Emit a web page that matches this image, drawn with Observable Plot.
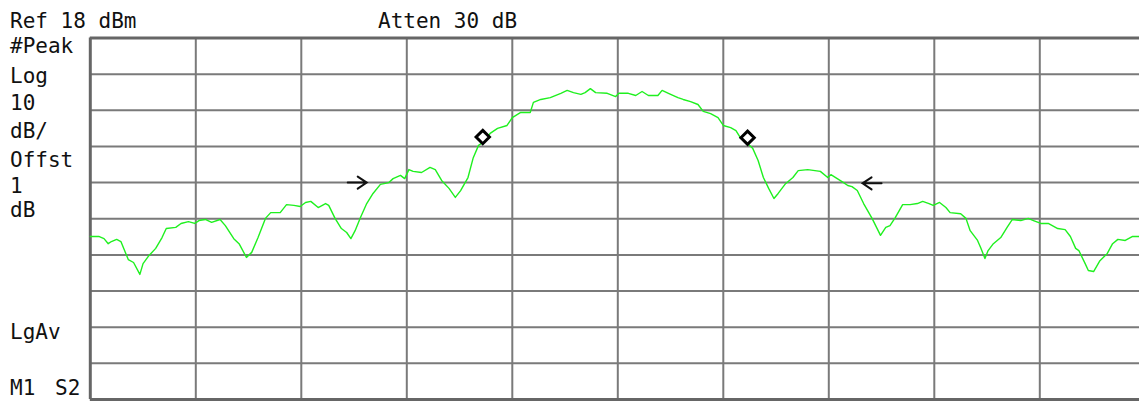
<!DOCTYPE html>
<html>
<head>
<meta charset="utf-8">
<script src="https://cdn.jsdelivr.net/npm/d3@7"></script>
<script src="https://cdn.jsdelivr.net/npm/@observablehq/plot@0.6"></script>
<style>
  html, body { margin: 0; padding: 0; background: #fff; overflow: hidden; }
  #chart svg { display: block; }
</style>
</head>
<body>
<div id="chart"></div>
<script>
// Spectrum trace: x in screen divisions (0..10), level in dBm
const freqDiv = [0.00,0.08,0.13,0.17,0.20,0.25,0.29,0.36,0.41,0.47,0.50,0.55,0.62,0.68,0.72,0.81,0.86,0.93,0.99,1.03,
  1.09,1.15,1.23,1.28,1.36,1.41,1.48,1.53,1.59,1.66,1.71,1.80,1.86,1.93,1.99,2.04,2.09,2.16,2.23,2.26,
  2.32,2.38,2.43,2.47,2.51,2.56,2.62,2.68,2.75,2.83,2.87,2.94,2.98,3.02,3.06,3.14,3.22,3.27,3.33,3.40,
  3.46,3.51,3.58,3.63,3.68,3.72,3.79,3.86,3.95,4.00,4.08,4.17,4.20,4.27,4.36,4.46,4.52,4.58,4.65,4.69,
  4.74,4.79,4.90,4.98,5.01,5.10,5.17,5.23,5.29,5.38,5.42,5.48,5.57,5.62,5.69,5.76,5.81,5.88,5.95,6.00,
  6.07,6.12,6.16,6.23,6.28,6.33,6.38,6.43,6.48,6.52,6.59,6.66,6.71,6.80,6.92,6.99,7.02,7.08,7.14,7.18,
  7.22,7.27,7.33,7.41,7.49,7.54,7.58,7.63,7.70,7.77,7.84,7.89,7.95,7.99,8.05,8.11,8.15,8.25,8.30,8.34,
  8.41,8.44,8.48,8.51,8.56,8.63,8.69,8.74,8.82,8.89,8.94,9.01,9.08,9.17,9.24,9.29,9.34,9.37,9.43,9.46,
  9.51,9.57,9.64,9.69,9.74,9.81,9.88,9.95];
const levelDbm = [-36.9,-36.9,-37.5,-38.9,-38.3,-37.7,-38.3,-43.3,-44.1,-47.4,-44.4,-42.4,-40.2,-37.2,-34.7,-34.4,-33.3,-32.8,-33.3,-32.5,
  -32.2,-33.0,-32.2,-33.9,-37.5,-38.9,-42.7,-41.3,-37.2,-31.9,-30.3,-30.3,-28.1,-28.3,-28.6,-27.5,-27.2,-28.9,-27.8,-28.3,
  -31.9,-34.7,-35.8,-37.5,-35.3,-31.7,-27.8,-25.0,-22.5,-22.0,-20.9,-20.0,-20.9,-18.4,-18.9,-19.2,-17.8,-18.4,-21.4,-23.6,
  -26.1,-24.2,-20.6,-15.1,-11.7,-10.9,-8.4,-7.0,-6.2,-4.0,-2.6,-2.6,0.2,1.0,1.5,2.7,3.5,2.9,2.4,2.9,
  4.0,2.9,2.7,1.8,2.7,2.7,2.1,3.2,2.1,2.1,3.5,2.7,1.5,1.0,0.4,-0.4,-2.3,-2.9,-4.0,-6.2,
  -6.8,-7.6,-9.5,-11.2,-12.6,-15.9,-20.6,-23.6,-26.4,-25.0,-22.3,-20.6,-18.7,-18.4,-18.9,-20.6,-19.8,-20.9,-22.0,-22.8,
  -23.1,-24.2,-27.8,-31.9,-36.6,-34.4,-33.9,-31.7,-28.1,-28.1,-27.8,-27.2,-27.8,-28.3,-27.5,-28.9,-30.3,-30.6,-31.9,-35.3,
  -38.0,-40.0,-43.0,-40.8,-38.9,-37.2,-34.4,-32.2,-32.5,-31.9,-32.5,-33.3,-33.3,-34.7,-35.0,-36.9,-40.2,-40.8,-44.4,-46.3,
  -46.6,-43.6,-41.6,-38.9,-37.7,-38.0,-36.9,-36.9];

// Markers (diamonds) and bandwidth arrows (tail position, direction)
const markerX = [3.72, 6.23];
const markerY = [-9.4, -9.6];
const arrowX = [2.44, 7.50];
const arrowY = [-22.0, -22.2];
const arrowDir = [90, -90];

// Screen annotation texts
const refLabel = "Ref 18 dBm";
const attenLabel = "Atten 30 dB";
const leftLabels = ["#Peak", "Log", "10", "dB/", "Offst", "1", "dB"];
const lowerLabels = ["LgAv"];
const bottomLabels = ["M1", "S2"];

// Scale settings: reference level and 10 dB/div over 10 divisions
const refLevel = 18;
const dbPerDiv = 10;
const nDiv = 10;

const trace = freqDiv.map((f, i) => ({f, v: levelDbm[i]}));
const markers = markerX.map((x, i) => ({x, y: markerY[i]}));
const arrows = arrowX.map((x, i) => ({x, y: arrowY[i], dir: arrowDir[i]}));
const hLines = d3.range(0, nDiv + 1).map(k => refLevel - k * dbPerDiv);
const vLines = d3.range(1, nDiv);

const width = 1139, height = 401;
const mLeft = 89.8, mTop = 37.5, mBottom = 2;
const divPx = 105.5;

const arrowShape = {
  draw(ctx, l) {
    ctx.moveTo(0, 0);
    ctx.lineTo(0, -l);
    ctx.moveTo(-6, -l + 9);
    ctx.lineTo(0, -l);
    ctx.lineTo(6, -l + 9);
  }
};

const grid = "#7a7a7a";
const chart = Plot.plot({
  width, height,
  marginLeft: mLeft, marginRight: 0, marginTop: mTop, marginBottom: mBottom,
  style: {background: "#fff", overflow: "visible"},
  x: {domain: [0, (width - mLeft) / divPx], axis: null},
  y: {domain: [refLevel - nDiv * dbPerDiv, refLevel], axis: null},
  marks: [
    Plot.ruleY(hLines.slice(1, -1), {stroke: grid, strokeWidth: 2}),
    Plot.ruleX(vLines, {stroke: grid, strokeWidth: 2}),
    Plot.ruleY([hLines[0], hLines[hLines.length - 1]], {stroke: "#666", strokeWidth: 3}),
    Plot.ruleX([0], {stroke: "#666", strokeWidth: 3}),
    Plot.line(trace, {x: "f", y: "v", stroke: "#1ff01f", strokeWidth: 1.4, curve: "linear"}),
    Plot.vector(arrows, {x: "x", y: "y", rotate: "dir", length: 19, anchor: "start", shape: arrowShape,
      stroke: "#111", strokeWidth: 2, strokeLinejoin: "miter"}),
    Plot.dot(markers, {x: "x", y: "y", symbol: "diamond2", r: 6, fill: "#fff", stroke: "#000", strokeWidth: 3})
  ]
});
document.getElementById("chart").appendChild(chart);

const svg = d3.select(chart);
const txt = svg.append("g")
  .attr("font-family", "'DejaVu Sans Mono', monospace")
  .attr("font-size", 21)
  .attr("text-anchor", "start")
  .attr("fill", "#111");
txt.append("text").attr("x", 10).attr("y", 28).text(refLabel);
txt.append("text").attr("x", 378).attr("y", 28).text(attenLabel);
const leftY = [53, 83, 110, 138, 167, 193, 217];
leftLabels.forEach((t, i) => txt.append("text").attr("x", 10).attr("y", leftY[i]).text(t));
txt.append("text").attr("x", 10).attr("y", 339).text(lowerLabels[0]);
txt.append("text").attr("x", 10).attr("y", 395).text(bottomLabels[0]);
txt.append("text").attr("x", 55).attr("y", 395).text(bottomLabels[1]);
</script>
</body>
</html>
